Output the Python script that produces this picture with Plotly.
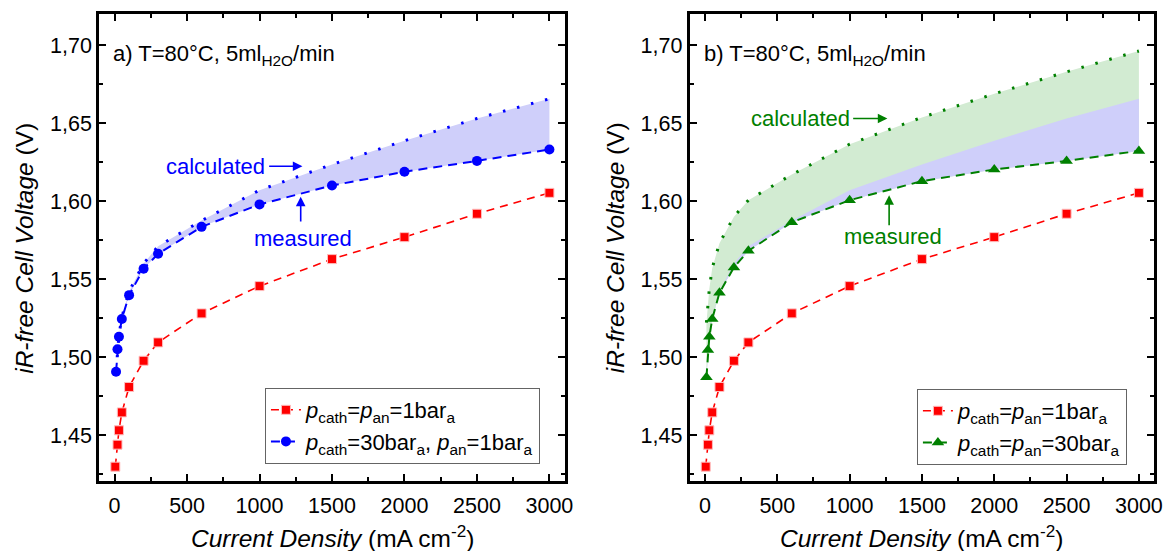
import plotly.graph_objects as go

# ---------------- data ----------------
I_red = [5, 20, 30, 50, 100, 200, 300, 600, 1000, 1500, 2000, 2500, 3000]
V_red = [1.4297, 1.4438, 1.4530, 1.4645, 1.4808, 1.4976, 1.5094, 1.5280,
         1.5455, 1.5628, 1.5769, 1.5919, 1.6053]

I_meas = [10, 20, 30, 50, 100, 200, 300, 600, 1000, 1500, 2000, 2500, 3000]
V_blue = [1.4906, 1.5050, 1.5130, 1.5244, 1.5397, 1.5566, 1.5662, 1.5835,
          1.5979, 1.6100, 1.6188, 1.6258, 1.6331]
V_blue_calc = [1.4906, 1.5055, 1.5140, 1.5255, 1.5420, 1.5600, 1.5710, 1.5875,
               1.6070, 1.6235, 1.6387, 1.6530, 1.6656]
V_green = [1.4870, 1.5045, 1.5130, 1.5244, 1.5412, 1.5575, 1.5681, 1.5864,
           1.6006, 1.6128, 1.6203, 1.6258, 1.6322]
V_green_calc = [1.5220, 1.5360, 1.5440, 1.5570, 1.5730, 1.5900, 1.6006, 1.6170,
                1.6365, 1.6537, 1.6688, 1.6829, 1.6963]

x_tickvals = [0, 500, 1000, 1500, 2000, 2500, 3000]
x_ticktext = ["0", "500", "1000", "1500", "2000", "2500", "3000"]
y_tickvals = [1.45, 1.50, 1.55, 1.60, 1.65, 1.70]
y_ticktext = ["1,45", "1,50", "1,55", "1,60", "1,65", "1,70"]

label_red = "<i>p</i><sub>cath</sub>=<i>p</i><sub>an</sub>=1bar<sub>a</sub>"
label_blue = "<i>p</i><sub>cath</sub>=30bar<sub>a</sub>, <i>p</i><sub>an</sub>=1bar<sub>a</sub>"
label_green = "<i>p</i><sub>cath</sub>=<i>p</i><sub>an</sub>=30bar<sub>a</sub>"

# ---------------- style ----------------
FONT = "Liberation Sans, Arial, sans-serif"
RED = "rgb(255,0,0)"
BLUE = "rgb(0,0,255)"
GREEN = "rgb(0,128,0)"
FILL_BLUE = "rgb(207,207,250)"
FILL_GREEN = "rgb(210,235,210)"
W, H = 1174, 551
TICK_SIZE = 21.5
ANN_SIZE = 22
TITLE_SIZE = 24.5

fig = go.Figure()

def boundary(x, y, xa, ya, fill=None, fillcolor=None):
    fig.add_trace(go.Scatter(x=x, y=y, xaxis=xa, yaxis=ya, mode="lines",
                             line=dict(width=0, color="rgba(0,0,0,0)"),
                             fill=fill, fillcolor=fillcolor,
                             showlegend=False, hoverinfo="skip"))

# ---- panel a ----
boundary(I_meas, V_blue, "x", "y")
boundary(I_meas, V_blue_calc, "x", "y", "tonexty", FILL_BLUE)
fig.add_trace(go.Scatter(x=I_meas, y=V_blue_calc, xaxis="x", yaxis="y", mode="lines",
                         line=dict(color=BLUE, width=3, dash="2.5px,12px"),
                         showlegend=False))
fig.add_trace(go.Scatter(x=I_red, y=V_red, xaxis="x", yaxis="y", mode="lines+markers",
                         name=label_red, legend="legend",
                         line=dict(color=RED, width=1.6, dash="8px,6px"),
                         marker=dict(symbol="square", size=9, color=RED,
                                     line=dict(color="rgb(255,190,190)", width=1))))
fig.add_trace(go.Scatter(x=I_meas, y=V_blue, xaxis="x", yaxis="y", mode="lines+markers",
                         name=label_blue, legend="legend",
                         line=dict(color=BLUE, width=2, dash="9px,6px"),
                         marker=dict(symbol="circle", size=10, color=BLUE)))

# ---- panel b ----
boundary(I_meas, V_green, "x2", "y2")
boundary(I_meas, V_green_calc, "x2", "y2", "tonexty", FILL_GREEN)
boundary(I_meas, V_green, "x2", "y2")
boundary(I_meas, V_blue_calc, "x2", "y2", "tonexty", FILL_BLUE)
fig.add_trace(go.Scatter(x=I_meas, y=V_green_calc, xaxis="x2", yaxis="y2", mode="lines",
                         line=dict(color=GREEN, width=3, dash="2.5px,12px"),
                         showlegend=False))
fig.add_trace(go.Scatter(x=I_red, y=V_red, xaxis="x2", yaxis="y2", mode="lines+markers",
                         name=label_red, legend="legend2",
                         line=dict(color=RED, width=1.6, dash="8px,6px"),
                         marker=dict(symbol="square", size=9, color=RED,
                                     line=dict(color="rgb(255,190,190)", width=1))))
fig.add_trace(go.Scatter(x=I_meas, y=V_green, xaxis="x2", yaxis="y2", mode="lines+markers",
                         name=label_green, legend="legend2",
                         line=dict(color=GREEN, width=2, dash="9px,6px"),
                         marker=dict(symbol="triangle-up", size=11, color=GREEN)))

# ---------------- axes ----------------
def xaxis(domain):
    return dict(domain=domain, range=[-106, 3105], showline=True, linewidth=3,
                linecolor="black", mirror="ticks", ticks="inside", ticklen=7,
                tickwidth=2, tickcolor="black", tickmode="array",
                tickvals=x_tickvals, ticktext=x_ticktext, showgrid=False,
                zeroline=False, ticklabelstandoff=3,
                tickfont=dict(family=FONT, size=TICK_SIZE, color="black"),
                minor=dict(ticks="inside", ticklen=4, tickwidth=2, tickcolor="black",
                           tickmode="linear", tick0=0, dtick=250, showgrid=False))

def yaxis(domain, anchor):
    return dict(domain=domain, anchor=anchor, range=[1.4205, 1.72], showline=True,
                linewidth=3, linecolor="black", mirror="ticks", ticks="inside",
                ticklen=7, tickwidth=2, tickcolor="black", tickmode="array",
                tickvals=y_tickvals, ticktext=y_ticktext, showgrid=False,
                zeroline=False, tickfont=dict(family=FONT, size=TICK_SIZE, color="black"),
                minor=dict(ticks="inside", ticklen=4, tickwidth=2, tickcolor="black",
                           tickmode="linear", tick0=1.425, dtick=0.025, showgrid=False))

ydom = [1 - 481 / H, 1 - 14 / H]
xdom1 = [100 / W, 569 / W]
xdom2 = [695 / W, 1163 / W]

legend_common = dict(bgcolor="white", bordercolor="rgb(100,100,100)", borderwidth=1,
                     font=dict(family=FONT, size=ANN_SIZE, color="black"),
                     xanchor="left", yanchor="top", tracegroupgap=0,
                     traceorder="normal")

fig.update_layout(
    width=W, height=H, margin=dict(l=0, r=0, t=0, b=0),
    paper_bgcolor="white", plot_bgcolor="white",
    font=dict(family=FONT, size=20, color="black"),
    xaxis=dict(xaxis(xdom1), anchor="y"),
    yaxis=yaxis(ydom, "x"),
    xaxis2=dict(xaxis(xdom2), anchor="y2"),
    yaxis2=yaxis(ydom, "x2"),
    legend=dict(legend_common, x=267 / W, y=1 - 388 / H),
    legend2=dict(legend_common, x=924 / W, y=1 - 389 / H),
)

ann = []
def text(x, y, s, xref, yref, color="black", size=ANN_SIZE, xanchor="center",
         yanchor="middle", angle=0):
    ann.append(dict(x=x, y=y, text=s, xref=xref, yref=yref, showarrow=False,
                    font=dict(family=FONT, size=size, color=color),
                    xanchor=xanchor, yanchor=yanchor, textangle=angle))

def arrow(x, y, ax, ay, xref, yref, color):
    ann.append(dict(x=x, y=y, ax=ax, ay=ay, xref=xref, yref=yref, axref=xref,
                    ayref=yref, text="", showarrow=True, arrowhead=2, arrowsize=1.2,
                    arrowwidth=1.6, arrowcolor=color))

# panel titles
text(112 / W, 1 - 55 / H, "a) T=80°C, 5ml<sub>H2O</sub>/min", "paper", "paper",
     xanchor="left")
text(707 / W, 1 - 55 / H, "b) T=80°C, 5ml<sub>H2O</sub>/min", "paper", "paper",
     xanchor="left")

# panel a annotations
text(697, 1.6224, "calculated", "x", "y", color=BLUE)
arrow(1296, 1.6224, 1056, 1.6224, "x", "y", BLUE)
text(1298, 1.5761, "measured", "x", "y", color=BLUE)
arrow(1284, 1.6028, 1284, 1.5859, "x", "y", BLUE)

# panel b annotations
text(658, 1.653, "calculated", "x2", "y2", color=GREEN)
arrow(1261, 1.653, 1014, 1.653, "x2", "y2", GREEN)
text(1302, 1.5771, "measured", "x2", "y2", color=GREEN)
arrow(1273, 1.6038, 1273, 1.5835, "x2", "y2", GREEN)

# axis titles
ytitle = "<i>iR-free Cell Voltage</i> (V)"
xtitle = "<i>Current Density</i> (mA cm<sup>-2</sup>)"
text(24 / W, 1 - 248 / H, ytitle, "paper", "paper", size=TITLE_SIZE, angle=-90)
text(620 / W, 1 - 248 / H, ytitle, "paper", "paper", size=TITLE_SIZE, angle=-90)
text(335 / W, 1 - 536 / H, xtitle, "paper", "paper", size=TITLE_SIZE)
text(929 / W, 1 - 536 / H, xtitle, "paper", "paper", size=TITLE_SIZE)

fig.update_layout(annotations=ann)
fig.write_html("out.html")
